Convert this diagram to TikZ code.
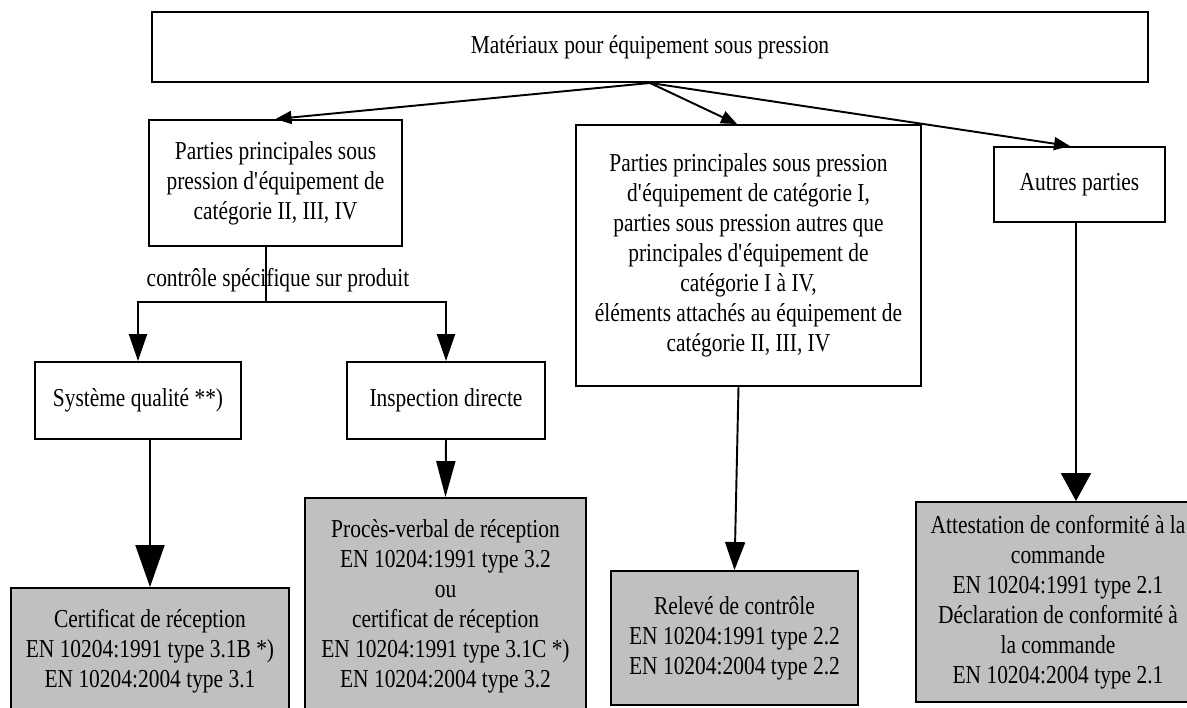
\documentclass[tikz,border=0pt]{standalone}
\usepackage{fontspec}
\setmainfont{Liberation Serif}[FakeStretch=0.83]
\usetikzlibrary{arrows.meta}
\definecolor{docgray}{RGB}{192,192,192}
\newcommand\apos{\textquotesingle}

\begin{document}
\begin{tikzpicture}[
x=0.02cm, y=-0.02cm,
line width=1.1pt,
font=\fontsize{14.7}{17.1}\selectfont,
boxsize/.style 2 args = {minimum width=#1*0.02cm, minimum height=#2*0.02cm},
box/.style = {draw, rectangle, align=center, inner sep=0pt},
doc box/.style = {box, fill=docgray},
>={Triangle[length=0.32cm, width=0.26cm]},
]

\useasboundingbox (0,0) rectangle (1187,707);

\node (top) [box, boxsize={996}{70}] at (650,47) {Matériaux pour équipement sous pression};

\node (A) [box, boxsize={253}{126}] at (275.5,183) {Parties principales sous\\pression d\apos équipement de\\catégorie II, III, IV};
\node (B) [box, boxsize={345}{261}] at (748.5,255.5) {Parties principales sous pression\\d\apos équipement de catégorie I,\\parties sous pression autres que\\principales d\apos équipement de\\catégorie I à IV,\\éléments attachés au équipement de\\catégorie II, III, IV};
\node (C) [box, boxsize={171}{75}] at (1079.5,184.5) {Autres parties};

\node (ctrl) at (278,280) {contrôle spécifique sur produit};
\coordinate (split) at (266,302);

\node (D) [box, boxsize={206}{77}] at (138,400.5) {Système qualité **)};
\node (E) [box, boxsize={198}{77}] at (446,400.5) {Inspection directe};

\node (cert) [doc box, boxsize={278}{127}] at (150,651.5) {Certificat de réception\\EN 10204:1991 type 3.1B *)\\EN 10204:2004 type 3.1};
\node (pv) [doc box, boxsize={281}{217}] at (445.5,606.5) {Procès-verbal de réception\\EN 10204:1991 type 3.2\\ou\\certificat de réception\\EN 10204:1991 type 3.1C *)\\EN 10204:2004 type 3.2};
\node (rel) [doc box, boxsize={247}{134}] at (734.5,638) {Relevé de contrôle\\EN 10204:1991 type 2.2\\EN 10204:2004 type 2.2};
\node (att) [doc box, boxsize={284}{200}] at (1058,602) {Attestation de conformité à la\\commande\\EN 10204:1991 type 2.1\\Déclaration de conformité à\\la commande\\EN 10204:2004 type 2.1};
\coordinate (att in) at ([xshift=0.36cm]att.north);

\draw[->] (top.south) -- (A.north);
\draw[->] (top.south) -- ([xshift=-0.23cm]B.north);
\draw[->] (top.south) -- ([xshift=-0.19cm]C.north);

\draw (A.south -| split) -- (split);
\draw[-{Triangle[length=0.54cm, width=0.36cm]}] (split) -| (D.north);
\draw[-{Triangle[length=0.54cm, width=0.36cm]}] (split) -| (E.north);

\draw[-{Triangle[length=0.84cm, width=0.58cm]}] (D.south -| cert.north) -- (cert.north);
\draw[-{Triangle[length=0.72cm, width=0.38cm]}] (E.south) -- (pv.north);
\draw[-{Triangle[length=0.56cm, width=0.4cm]}] ([xshift=-0.2cm]B.south) -- (rel.north);
\draw[-{Triangle[length=0.56cm, width=0.6cm]}] (C.south -| att in) -- (att in);

\end{tikzpicture}
\end{document}
